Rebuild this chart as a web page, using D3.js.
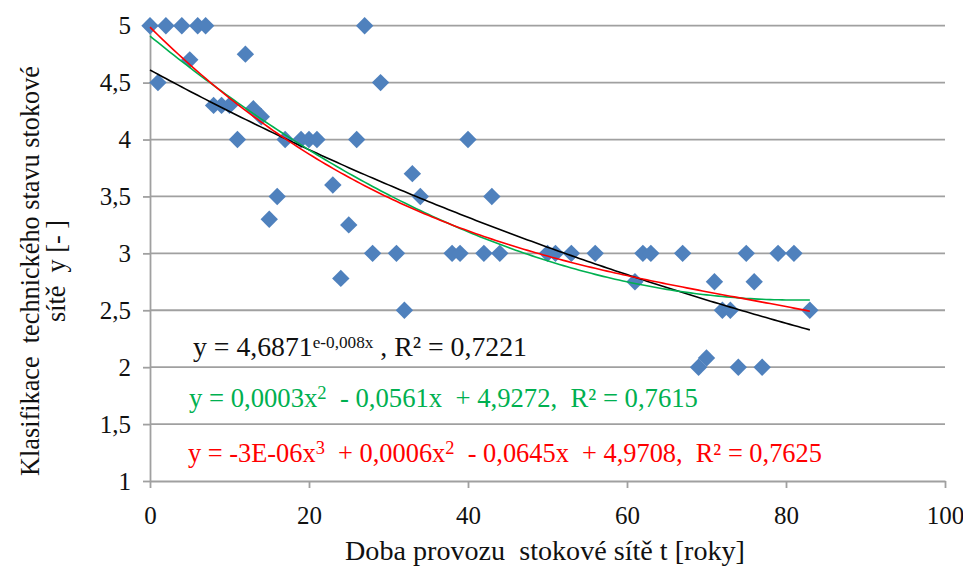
<!DOCTYPE html>
<html><head><meta charset="utf-8">
<script src="https://cdn.jsdelivr.net/npm/d3@7"></script>
</head>
<body style="margin:0;background:#fff">
<svg id="c" width="963" height="566" font-family="Liberation Serif" style="display:block"></svg>
<script>
// --- data ---
const ageYears = [0,2,4,6,7,27, 1,29, 5,12, 8,9,10, 13,14, 11,17,19,20,21,26,40,
  33,23,16,34,43,15,25,
  28,31,38,39,42,44,50,51,53,56,62,63,67,75,79,81,
  24,61,71,76, 32,72,73,83, 69,70,74,77];
const ratings  = [5,5,5,5,5,5, 4.5,4.5, 4.7,4.75, 4.3,4.3,4.3, 4.27,4.2, 4,4,4,4,4,4,4,
  3.7,3.6,3.5,3.5,3.5,3.3,3.25,
  3,3,3,3,3,3,3,3,3,3,3,3,3,3,3,3,
  2.78,2.75,2.75,2.75, 2.5,2.5,2.5,2.5, 2,2.08,2,2];
const xTicks = [0,20,40,60,80,100];
const yTicks = [1,1.5,2,2.5,3,3.5,4,4.5,5];
const yTickLabels = ["1","1,5","2","2,5","3","3,5","4","4,5","5"];
const xTitle = "Doba provozu  stokové sítě t [roky]";
const yTitleLines = ["Klasifikace  technického stavu stokové", "sítě  y [- ]"];
const eqExp  = [["y = 4,6871",0],["e-0,008x",1],[" , R² = 0,7221",0]];
const eqPoly2 = [["y = 0,0003x",0],["2",1],["  - 0,0561x  + 4,9272,  R² = 0,7615",0]];
const eqPoly3 = [["y = -3E-06x",0],["3",1],["  + 0,0006x",0],["2",1],["  - 0,0645x  + 4,9708,  R² = 0,7625",0]];

// --- layout ---
const FONT = "Liberation Serif";
const keep = s => s.replace(/ /g, "\u00A0");
const svg = d3.select("#c");
const L = 150, R = 945, T = 25.7, B = 481;
const x = d3.scaleLinear().domain([0,100]).range([L,R]);
const y = d3.scaleLinear().domain([1,5]).range([B,T]);
const grey = "#a0a0a0";

// fit a text element's font size so that its length matches a target
function fitSize(sel, base, target){
  const w = sel.node().getComputedTextLength();
  const s = base*target/w;
  sel.attr("font-size", s);
  sel.selectAll("tspan").each(function(){
    const r = +this.dataset.rel || 1; d3.select(this).attr("font-size", s*r);
  });
  return s;
}

// gridlines
svg.append("g").selectAll("line").data(yTicks.filter(v=>v>1)).join("line")
  .attr("x1",L).attr("x2",R).attr("y1",d=>y(d)).attr("y2",d=>y(d))
  .attr("stroke",grey).attr("stroke-width",1.8);

// axes
const yAxis = svg.append("g").attr("transform",`translate(${L},0)`)
  .call(d3.axisLeft(y).tickValues(yTicks).tickFormat((d,i)=>yTickLabels[i]).tickSizeInner(7).tickSizeOuter(0).tickPadding(12));
const xAxis = svg.append("g").attr("transform",`translate(0,${B})`)
  .call(d3.axisBottom(x).tickValues(xTicks).tickSizeInner(7).tickSizeOuter(0).tickPadding(18));
[yAxis,xAxis].forEach(g=>{
  g.attr("font-family",FONT).attr("font-size",25);
  g.select(".domain").attr("stroke",grey).attr("stroke-width",1.8);
  g.selectAll(".tick line").attr("stroke",grey).attr("stroke-width",1.8);
  g.selectAll(".tick text").attr("fill","#111").attr("font-family",FONT).attr("font-size",25);
});

// axis titles
const xt = svg.append("text").attr("x",545).attr("y",560).attr("text-anchor","middle")
  .attr("font-family",FONT).attr("font-size",24).attr("fill","#111").text(keep(xTitle));
fitSize(xt, 24, 400);
const yt1 = svg.append("text").attr("transform","translate(39,271) rotate(-90)")
  .attr("text-anchor","middle").attr("font-family",FONT).attr("font-size",24).attr("fill","#111")
  .text(keep(yTitleLines[0]));
const ys = fitSize(yt1, 24, 410);
svg.append("text").attr("transform","translate(65,271) rotate(-90)")
  .attr("text-anchor","middle").attr("font-family",FONT).attr("font-size",ys).attr("fill","#111")
  .text(keep(yTitleLines[1]));

// markers
const pts = ageYears.map((a,i)=>[a,ratings[i]]);
const dh = 8.7;
svg.append("g").selectAll("path").data(pts).join("path")
  .attr("d",d=>`M${x(d[0])},${y(d[1])-dh}L${x(d[0])+dh},${y(d[1])}L${x(d[0])},${y(d[1])+dh}L${x(d[0])-dh},${y(d[1])}Z`)
  .attr("fill","#4f81bd");

// --- least-squares trendlines fitted to the data ---
function polyFit(xs, ys, deg){
  const n = deg+1, A = Array.from({length:n},()=>new Array(n+1).fill(0));
  xs.forEach((xv,k)=>{
    for(let i=0;i<n;i++){
      for(let j=0;j<n;j++) A[i][j]+=Math.pow(xv,i+j);
      A[i][n]+=ys[k]*Math.pow(xv,i);
    }
  });
  for(let i=0;i<n;i++){
    let p=i; for(let r=i+1;r<n;r++) if(Math.abs(A[r][i])>Math.abs(A[p][i])) p=r;
    [A[i],A[p]]=[A[p],A[i]];
    for(let r=0;r<n;r++){ if(r===i) continue; const f=A[r][i]/A[i][i];
      for(let c=i;c<=n;c++) A[r][c]-=f*A[i][c]; }
  }
  return A.map((row,i)=>row[n]/row[i]);
}
const c2 = polyFit(ageYears, ratings, 2);
const c3 = polyFit(ageYears, ratings, 3);
const ce = polyFit(ageYears, ratings.map(Math.log), 1);
const evalPoly = (c,t)=>c.reduce((s,v,i)=>s+v*Math.pow(t,i),0);
const xMin = d3.min(ageYears), xMax = d3.max(ageYears);
const xs = d3.range(xMin, xMax+0.001, 0.5);
const line = d3.line().x(d=>x(d[0])).y(d=>y(d[1]));
const trends = [
  {f:t=>Math.exp(ce[0])*Math.exp(ce[1]*t), color:"#000000"},
  {f:t=>evalPoly(c2,t), color:"#00b050"},
  {f:t=>evalPoly(c3,t), color:"#ff0000"}
];
trends.forEach(tr=>{
  svg.append("path").attr("d",line(xs.map(t=>[t,tr.f(t)])))
    .attr("fill","none").attr("stroke",tr.color).attr("stroke-width",1.6);
});

// equations
function eq(parts, px, py, color, target, supRel){
  const base = 24;
  const t = svg.append("text").attr("x",px).attr("y",py).attr("fill",color)
    .attr("font-family",FONT).attr("font-size",base);
  let up = false;
  parts.forEach(([s,sup])=>{
    const sp = t.append("tspan").text(keep(s));
    if(sup){ sp.attr("data-rel",supRel).attr("font-size",base*supRel); }
    if(sup && !up){ sp.attr("dy",-8); up=true; }
    else if(!sup && up){ sp.attr("dy",8); up=false; }
  });
  fitSize(t, base, target);
}
eq(eqExp, 193, 356, "#111111", 334, 0.62);
eq(eqPoly2, 189, 407, "#00b050", 509, 0.7);
eq(eqPoly3, 188, 462, "#ff0000", 634, 0.7);
</script></body></html>
